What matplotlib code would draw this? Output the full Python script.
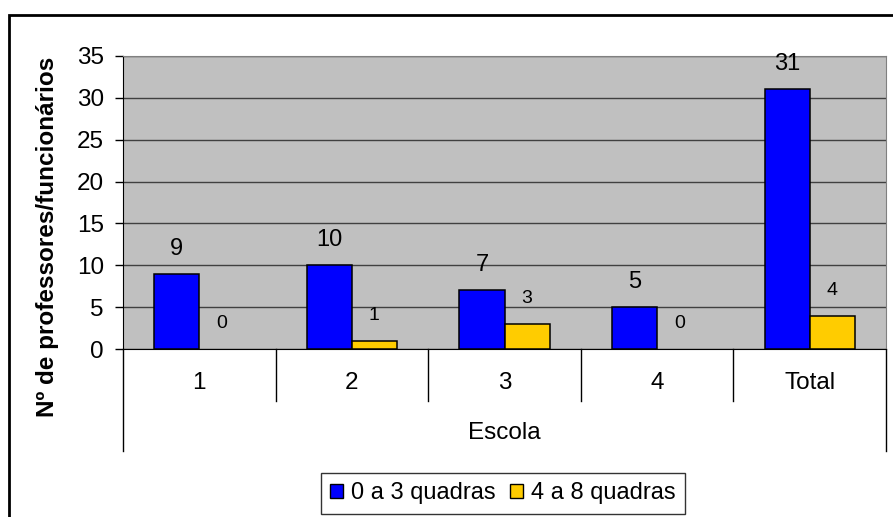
import matplotlib
matplotlib.use('Agg')
import matplotlib.pyplot as plt
from matplotlib.patches import Patch, Rectangle
import numpy as np

plt.rcParams['font.family'] = ['Liberation Sans', 'DejaVu Sans']

# Dados por escola
escolas = ['1', '2', '3', '4', 'Total']
perto = [9, 10, 7, 5, 31]      # 0 a 3 quadras
longe = [0, 1, 3, 0, 4]        # 4 a 8 quadras
series = ['0 a 3 quadras', '4 a 8 quadras']
cores = ['#0000FF', '#FFCC00']

W, H = 893, 517
fig = plt.figure(figsize=(W / 100, H / 100), dpi=100)
ax = fig.add_axes([123 / W, (H - 349) / H, 763 / W, 293 / H])
ax.set_facecolor('#C0C0C0')

# moldura externa do gráfico
fig.patches.append(Rectangle((9 / W, -0.2), 1.2, 1.2 - 15 / H, transform=fig.transFigure,
                             fill=False, edgecolor='black', linewidth=2, zorder=0))

x = np.arange(len(escolas))
larg = 0.295
b1 = ax.bar(x - larg / 2, perto, larg, color=cores[0], edgecolor='black', linewidth=1.1, zorder=3)
b2 = ax.bar(x + larg / 2, longe, larg, color=cores[1], edgecolor='black', linewidth=1.1, zorder=3)

# barras de valor zero não aparecem
for rect, v in zip(list(b1) + list(b2), perto + longe):
    if v == 0:
        rect.set_linewidth(0)

for rect, v in zip(b1, perto):
    ax.annotate(str(v), (rect.get_x() + rect.get_width() / 2, v), xytext=(0, 18),
                textcoords='offset points', ha='center', va='center', fontsize=17)
for rect, v in zip(b2, longe):
    ax.annotate(str(v), (rect.get_x() + rect.get_width() / 2, v), xytext=(0, 18),
                textcoords='offset points', ha='center', va='center', fontsize=14)

ax.set_xlim(-0.5, len(escolas) - 0.5)
ax.set_ylim(0, 35)
ax.set_yticks(range(0, 36, 5))
ax.tick_params(axis='y', direction='out', length=5.8, width=1, pad=8, labelsize=17.5)
ax.set_xticks([])
ax.yaxis.grid(True, color='#404040', linewidth=1)
ax.set_axisbelow(True)

for s in ['top', 'right']:
    ax.spines[s].set_color('#808080')
for s in ['left', 'bottom']:
    ax.spines[s].set_color('black')

# caixas das categorias abaixo do eixo
tr = ax.get_xaxis_transform()
for b in np.arange(-0.5, len(escolas), 1):
    fundo = -0.348 if b in (-0.5, len(escolas) - 0.5) else -0.1775
    ax.plot([b, b], [0, fundo], transform=tr, color='black', linewidth=1, clip_on=False)
for i, nome in enumerate(escolas):
    ax.text(i, -0.116, nome, transform=tr, ha='center', va='center', fontsize=17.5)
ax.text(0.5, -0.287, 'Escola', transform=ax.transAxes, ha='center', va='center', fontsize=17.5)

fig.text(48 / W, 1 - 237 / H, 'Nº de professores/funcionários', rotation=90,
         ha='center', va='center', fontsize=17.5, fontweight='bold')

handles = [Patch(facecolor=c, edgecolor='black', linewidth=1) for c in cores]
leg = fig.legend(handles, series, loc='upper center', bbox_to_anchor=(503 / W, 1 - 473 / H),
                 ncol=2, fontsize=17, frameon=True, fancybox=False, borderpad=0.4,
                 borderaxespad=0, handlelength=0.55, handleheight=0.55, handletextpad=0.35,
                 columnspacing=0.6)
leg.get_frame().set_edgecolor('black')
leg.get_frame().set_linewidth(1)

fig.savefig('out.png', dpi=100)
